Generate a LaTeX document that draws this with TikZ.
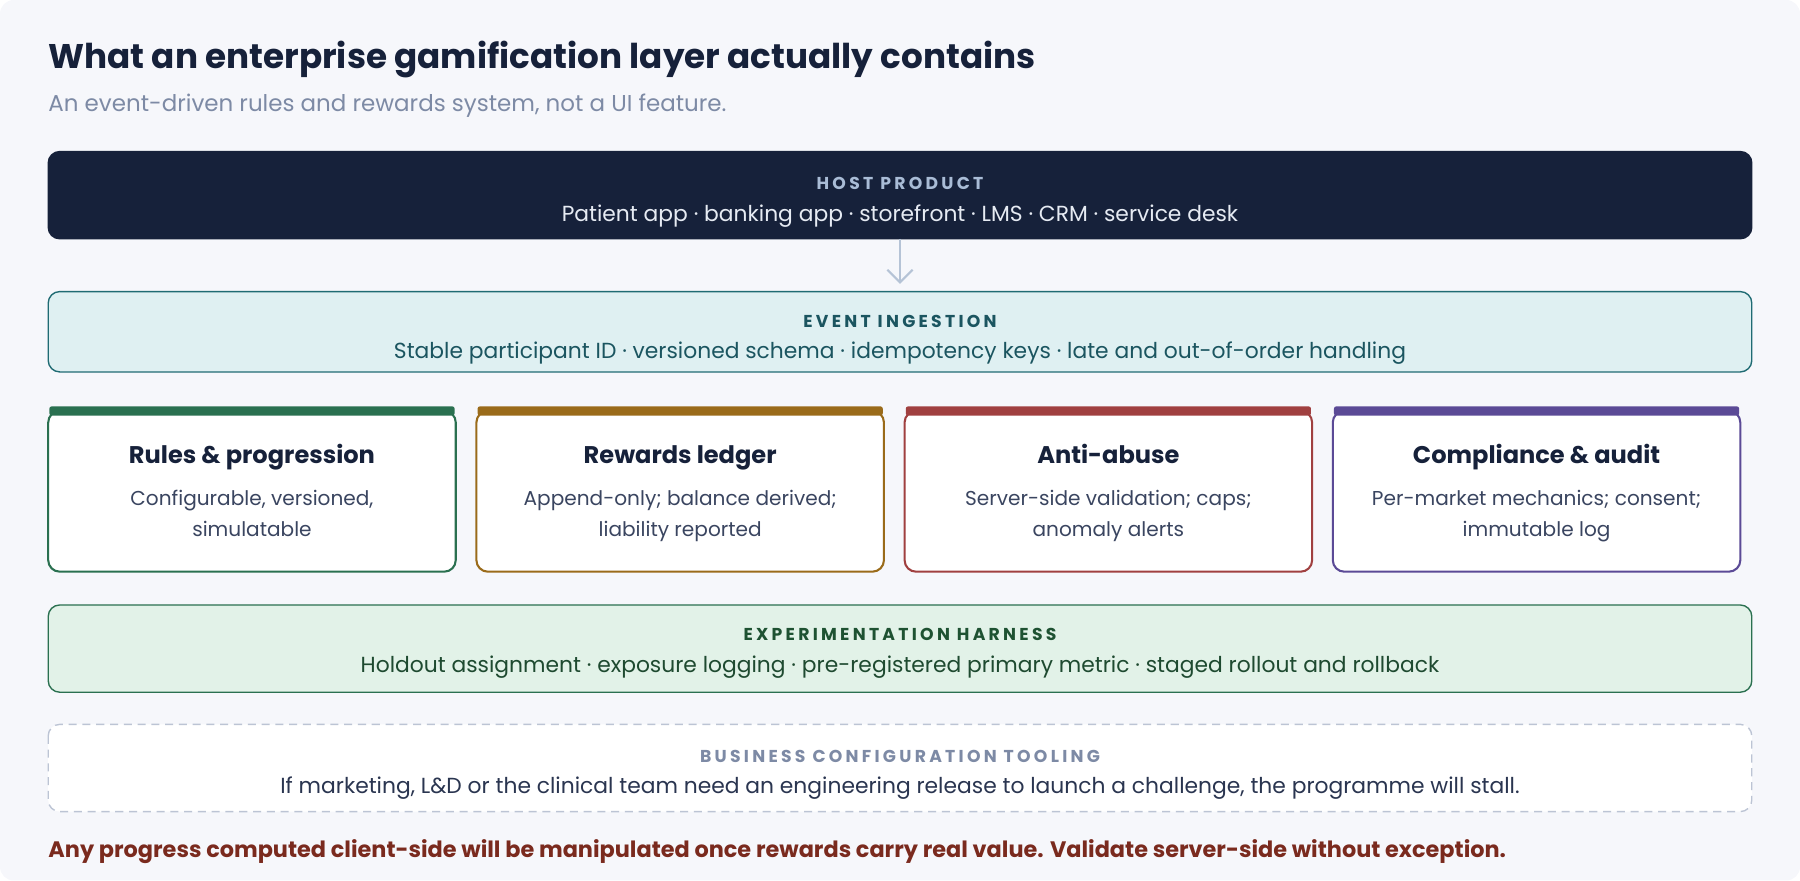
\documentclass[tikz,border=0pt]{standalone}
\usepackage{fontspec}
\setmainfont{Poppins}
\newfontfamily\capsfont[LetterSpace=19]{Poppins}
\definecolor{bg}{HTML}{F6F7FB}
\definecolor{ink}{HTML}{16213A}
\definecolor{sub}{HTML}{7D8AA5}
\definecolor{body}{HTML}{3A4560}
\definecolor{cg}{HTML}{2A7050}
\definecolor{cy}{HTML}{9A6B1A}
\definecolor{cr}{HTML}{A04040}
\definecolor{cp}{HTML}{5B4A96}
\definecolor{hcap}{HTML}{A9BCD6}
\definecolor{htxt}{HTML}{E6EBF3}
\definecolor{arr}{HTML}{B5C3D6}
\definecolor{efill}{HTML}{DFF0F2}
\definecolor{edraw}{HTML}{1F6B73}
\definecolor{etxt}{HTML}{1B5560}
\definecolor{xfill}{HTML}{E2F2E8}
\definecolor{xcap}{HTML}{1E5232}
\definecolor{xtxt}{HTML}{1E4A30}
\definecolor{bdraw}{HTML}{BCC4D4}
\definecolor{btxt}{HTML}{2A3550}
\definecolor{foot}{HTML}{7A2A1E}
\begin{document}
\begin{tikzpicture}[x=1pt,y=-1pt,
  box/.style={rounded corners=10pt,line width=1.2pt},
  capl/.style={font=\capsfont\bfseries\fontsize{15}{17}\selectfont,anchor=base},
  tline/.style={font=\fontsize{19}{22}\selectfont,anchor=base},
  ctitle/.style={font=\bfseries\fontsize{21}{25}\selectfont,anchor=base,text=ink},
  cbody/.style={font=\fontsize{17.5}{21}\selectfont,anchor=base,text=body,align=center}]
\useasboundingbox (0,0) rectangle (1568,767);
\fill[bg, rounded corners=12pt] (0,0) rectangle (1568,767);
\node[anchor=base west,font=\bfseries\fontsize{29.8}{34}\selectfont,text=ink,inner sep=0] (title) at (42,60) {What an enterprise gamification layer actually contains};
\node[anchor=base west,font=\fontsize{20}{24}\selectfont,text=sub,inner sep=0] (subt) at (42,97) {An event-driven rules and rewards system, not a UI feature.};
% host
\draw[box,fill=ink,draw=ink] (42,132) rectangle (1526,208);
\node[capl,text=hcap] (h1) at (784,165) {HOST PRODUCT};
\node[tline,text=htxt] (h2) at (784,193) {Patient app · banking app · storefront · LMS · CRM · service desk};
\coordinate (a1) at (784,208); \coordinate (a2) at (784,246);
\draw[arr,line width=1.8pt] (a1) -- (a2);
\draw[arr,line width=1.8pt] (773,235) -- (a2) -- (795,235);
% event
\draw[box,fill=efill,draw=edraw] (42,254) rectangle (1526,324);
\node[capl,text=etxt] (e1) at (784,285) {EVENT INGESTION};
\node[tline,text=etxt] (e2) at (784,312) {Stable participant ID · versioned schema · idempotency keys · late and out-of-order handling};
% cards
\foreach \x/\c/\t/\a/\b in {42/cg/Rules \& progression/{Configurable, versioned,}/simulatable,
  415/cy/Rewards ledger/{Append-only; balance derived;}/liability reported,
  788/cr/Anti-abuse/{Server-side validation; caps;}/anomaly alerts,
  1161/cp/Compliance \& audit/{Per-market mechanics; consent;}/immutable log}{
  \draw[box,fill=white,draw=\c,line width=1.8pt] (\x,358) rectangle ++(355,140);
  \fill[\c,rounded corners=2pt] (\x+1,354) rectangle ++(353,8);
  \node[ctitle] at (\x+177.5,404) {\t};
  \node[cbody] at (\x+177.5,440) {\a};
  \node[cbody] at (\x+177.5,467) {\b};
}
% experimentation
\draw[box,fill=xfill,draw=cg] (42,527) rectangle (1526,603);
\node[capl,text=xcap] (x1) at (784,558) {EXPERIMENTATION HARNESS};
\node[tline,text=xtxt] (x2) at (784,586) {Holdout assignment · exposure logging · pre-registered primary metric · staged rollout and rollback};
% business
\draw[box,fill=white,draw=bdraw,dash pattern=on 7pt off 5pt] (42,631) rectangle (1526,707);
\node[capl,text=sub] (b1) at (784,664) {BUSINESS CONFIGURATION TOOLING};
\node[tline,text=btxt] (b2) at (784,691) {If marketing, L\&D or the clinical team need an engineering release to launch a challenge, the programme will stall.};
\node[anchor=base west,inner sep=0,font=\bfseries\fontsize{19.5}{23}\selectfont,text=foot] (ft) at (42,747) {Any progress computed client-side will be manipulated once rewards carry real value. Validate server-side without exception.};
\end{tikzpicture}
\end{document}
